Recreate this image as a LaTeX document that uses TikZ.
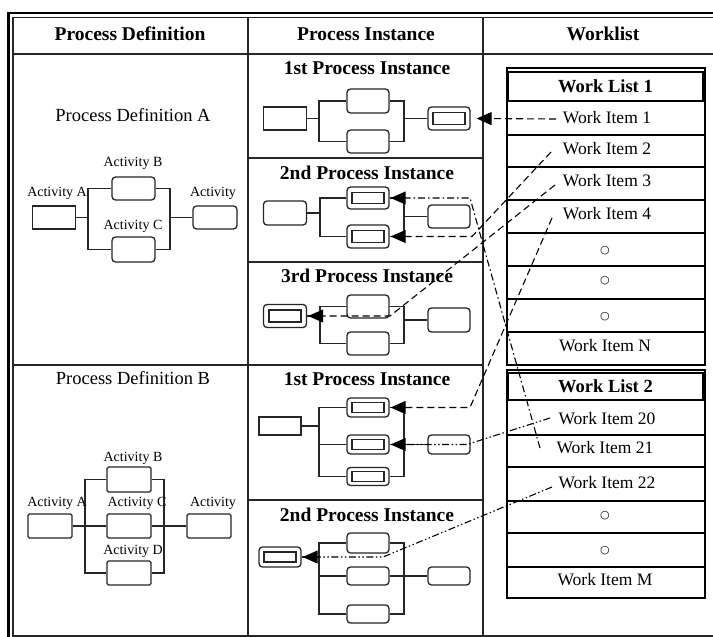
\documentclass[tikz,border=0pt]{standalone}
\usepackage{fontspec}
\setmainfont{Liberation Serif}
\newfontfamily\symfont{DejaVu Sans}
\usetikzlibrary{arrows.meta}

\begin{document}
\begin{tikzpicture}[x=1pt,y=-1pt,
  wire/.style={line width=1.3pt, draw=black!85},
  thin rule/.style={line width=1.3pt, draw=black!85},
  hdr/.style={font=\fontsize{19.5}{20}\selectfont\bfseries, inner sep=0pt},
  deftitle/.style={font=\fontsize{18.5}{19}\selectfont, inner sep=0pt},
  actlabel/.style={font=\fontsize{14}{15}\selectfont, inner sep=0pt},
  itemtext/.style={font=\fontsize{17.5}{18}\selectfont, inner sep=0pt},
  dottext/.style={font=\symfont\fontsize{11}{12}\selectfont, inner sep=0pt},
  listhead/.style={draw, line width=2pt, minimum width=195pt, minimum height=29pt, inner sep=0pt,
    font=\fontsize{18.5}{19}\selectfont\bfseries},
  sqbox/.style={draw=black!85, line width=1.3pt, rectangle, inner sep=0pt,
    minimum width=42pt, minimum height=23pt},
  rbox/.style={sqbox, rounded corners=3.5pt},
  sbox/.style={sqbox, rounded corners=1.5pt},
  inbox/.style={draw=black!85, line width=1.3pt, inner sep=0pt, minimum width=32pt, minimum height=12pt},
  conn/.style={line width=1.1pt, -{Triangle[length=15pt,width=13pt]}},
  dsh/.style={dash pattern=on 7pt off 4pt},
  dshdot/.style={dash pattern=on 7pt off 3pt on 1.5pt off 3pt},
  dshdotdot/.style={dash pattern=on 7pt off 2.5pt on 1.5pt off 2.5pt on 1.5pt off 2.5pt}
]
\useasboundingbox (0,0) rectangle (713,637);
\fill[white] (0,0) rectangle (713,637);

% ---------- table frame ----------
\draw[line width=2.6pt] (8.5,650) -- (8.5,13) -- (720,13);
\draw[thin rule] (13,650) -- (13,17.5) -- (720,17.5);
\draw[thin rule] (13,636) -- (720,636);
\draw[thin rule] (13,54) -- (720,54);
\draw[thin rule] (248,17.5) -- (248,636);
\draw[thin rule] (483,17.5) -- (483,636);
\draw[thin rule] (13,365) -- (483,365);
\draw[thin rule] (248,158) -- (483,158);
\draw[thin rule] (248,262) -- (483,262);
\draw[thin rule] (248,500) -- (483,500);

\node[hdr] (hdef) at (130,34) {Process Definition};
\node[hdr] (hins) at (366,34) {Process Instance};
\node[hdr] (hwl) at (603,34) {Worklist};

% ---------- Process Definition A ----------
\node[deftitle] (pdA) at (133,115) {Process Definition A};
\node[actlabel] (laB) at (133,163) {Activity B};
\node[actlabel] (laA) at (57,193) {Activity A};
\node[actlabel] (laC) at (133,226) {Activity C};
\node[actlabel] (laE) at (213,193) {Activity};
\node[sqbox, minimum width=43pt] (dA) at (54,217.5) {};
\node[rbox, minimum width=43pt] (dB) at (133.5,188.5) {};
\node[rbox, minimum width=43pt, minimum height=25pt] (dC) at (133.5,249.5) {};
\node[rbox, minimum width=44pt] (dE) at (215,217.5) {};
\coordinate (fkA) at (88,0);
\coordinate (jnA) at (170,0);
\draw[wire] (dA.east) -- (dA.east -| fkA);
\draw[wire] (dB.west) -| (dC.west -| fkA) -- (dC.west);
\draw[wire] (dB.east) -| (dC.east -| jnA) -- (dC.east);
\draw[wire] (dE.west) -- (dE.west -| jnA);

% ---------- Process Definition B ----------
\node[deftitle] (pdB) at (133,378) {Process Definition B};
\node[sbox, minimum width=44pt, minimum height=25pt] (eB) at (129,479.5) {};
\node[sbox, minimum width=44pt, minimum height=24pt] (eA) at (50,526) {};
\node[sbox, minimum width=44pt, minimum height=24pt] (eC) at (129,526) {};
\node[sbox, minimum width=44pt, minimum height=24pt] (eE) at (209,526) {};
\node[sbox, minimum width=44pt, minimum height=24pt] (eD) at (129,573) {};
\coordinate (fkB) at (85,0);
\coordinate (jnB) at (164,0);
\draw[wire] (eA.east) -- (eA.east -| fkB);
\draw[wire] (eB.west) -| (eD.west -| fkB) -- (eD.west);
\draw[wire] (eC.west) -- (eC.west -| fkB);
\draw[wire] (eB.east) -| (eD.east -| jnB) -- (eD.east);
\draw[wire] (eC.east) -- (eC.east -| jnB);
\draw[wire] (eE.west) -- (eE.west -| jnB);
\node[actlabel] (lbB) at (133,458) {Activity B};
\node[actlabel] (lbA) at (57,503) {Activity A};
\node[actlabel] (lbC) at (137,503) {Activity C};
\node[actlabel] (lbE) at (213,503) {Activity};
\node[actlabel] (lbD) at (133,551) {Activity D};

% ---------- 1st Process Instance (A) ----------
\node[hdr] (t1) at (367,68) {1st Process Instance};
\node[sqbox, minimum width=43pt] (i1a) at (285,118.5) {};
\node[rbox, minimum height=24pt] (i1b) at (368,101) {};
\node[rbox] (i1c) at (368,141.5) {};
\node[rbox] (i1d) at (449,118.5) {};
\node[inbox] (i1dx) at (i1d) {};
\coordinate (fk1) at (319,0);
\coordinate (jn1) at (404,0);
\draw[wire] (i1a.east) -- (i1a.east -| fk1);
\draw[wire] (i1b.west) -| (i1c.west -| fk1) -- (i1c.west);
\draw[wire] (i1b.east) -| (i1c.east -| jn1) -- (i1c.east);
\draw[wire] (i1d.west) -- (i1d.west -| jn1);

% ---------- 2nd Process Instance (A) ----------
\node[hdr] (t2) at (367,173) {2nd Process Instance};
\node[rbox, minimum width=43pt, minimum height=24pt] (i2s) at (285,213) {};
\node[rbox, minimum height=22pt] (i2a) at (368,198) {};
\node[inbox, minimum height=11pt] (i2ax) at (i2a) {};
\node[rbox] (i2b) at (368,236.5) {};
\node[inbox] (i2bx) at (i2b) {};
\node[rbox] (i2d) at (449,216.5) {};
\coordinate (fk2) at (320,0);
\coordinate (jn2) at (404,0);
\draw[wire] (i2s.east) -- (i2s.east -| fk2);
\draw[wire] (i2a.west) -| (i2b.west -| fk2) -- (i2b.west);
\draw[wire] (i2a.east) -| (i2b.east -| jn2) -- (i2b.east);
\draw[wire] (i2d.west) -- (i2d.west -| jn2);

% ---------- 3rd Process Instance (A) ----------
\node[hdr] (t3) at (367,276) {3rd Process Instance};
\node[rbox, minimum width=43pt] (i3a) at (285,316) {};
\node[inbox] (i3ax) at (i3a) {};
\node[rbox] (i3b) at (368,306.5) {};
\node[rbox] (i3c) at (368,343.5) {};
\node[rbox, minimum height=24pt] (i3d) at (449,320) {};
\coordinate (fk3) at (320,0);
\coordinate (jn3) at (404,0);
\draw[wire] (i3a.east) -- (i3a.east -| fk3);
\draw[wire] (i3b.west) -| (i3c.west -| fk3) -- (i3c.west);
\draw[wire] (i3b.east) -| (i3c.east -| jn3) -- (i3c.east);
\draw[wire] (i3d.west) -- (i3d.west -| jn3);

% ---------- 1st Process Instance (B) ----------
\node[hdr] (t4) at (367,379) {1st Process Instance};
\node[sqbox, minimum height=18pt] (i4s) at (280,426) {};
\node[rbox, minimum height=19pt] (i4a) at (368,407.5) {};
\node[inbox, minimum height=10pt] (i4ax) at (i4a) {};
\node[rbox, minimum height=19pt] (i4b) at (368,444.5) {};
\node[inbox, minimum height=10pt] (i4bx) at (i4b) {};
\node[rbox, minimum height=18pt] (i4c) at (368,476.5) {};
\node[inbox, minimum height=10pt] (i4cx) at (i4c) {};
\node[rbox, minimum height=19pt] (i4d) at (449,444.5) {};
\coordinate (fk4) at (319,0);
\coordinate (jn4) at (404,0);
\draw[wire] (i4s.east) -- (i4s.east -| fk4);
\draw[wire] (i4a.west) -| (i4c.west -| fk4) -- (i4c.west);
\draw[wire] (i4b.west) -- (i4b.west -| fk4);
\draw[wire] (i4a.east) -| (i4c.east -| jn4) -- (i4c.east);
\draw[wire] (i4b.east) -- (i4b.east -| jn4);
\draw[wire] (i4d.west) -- (i4d.west -| jn4);

% ---------- 2nd Process Instance (B) ----------
\node[hdr] (t5) at (367,515) {2nd Process Instance};
\node[rbox, minimum height=20pt] (i5a) at (280,557) {};
\node[inbox, minimum height=10pt] (i5ax) at (i5a) {};
\node[rbox, minimum height=20pt] (i5b) at (368,543) {};
\node[rbox, minimum height=18pt] (i5c) at (368,576) {};
\node[rbox, minimum height=18pt] (i5e) at (368,614) {};
\node[rbox, minimum height=18pt] (i5d) at (449,576) {};
\coordinate (fk5) at (319,0);
\coordinate (jn5) at (404,0);
\draw[wire] (i5a.east) -- (i5a.east -| fk5);
\draw[wire] (i5b.west) -| (i5e.west -| fk5) -- (i5e.west);
\draw[wire] (i5c.west) -- (i5c.west -| fk5);
\draw[wire] (i5b.east) -| (i5e.east -| jn5) -- (i5e.east);
\draw[wire] (i5c.east) -- (i5c.east -| jn5);
\draw[wire] (i5d.west) -- (i5d.west -| jn5);

% ---------- Work List 1 ----------
\draw[line width=1.1pt] (507,68) rectangle (705,365);
\node[listhead] (wl1) at (605.5,86) {Work List 1};
\foreach \yy in {135,167,200,233,266,299,332} \draw[line width=1.2pt] (507,\yy) -- (705,\yy);
\node[itemtext] (w1) at (607,118) {Work Item 1};
\node[itemtext] (w2) at (607,149) {Work Item 2};
\node[itemtext] (w3) at (607,181) {Work Item 3};
\node[itemtext] (w4) at (607,214) {Work Item 4};
\node[dottext] (o1) at (605,251) {○};
\node[dottext] (o2) at (605,281) {○};
\node[dottext] (o3) at (605,317) {○};
\node[itemtext] (wN) at (605,346) {Work Item N};

% ---------- Work List 2 ----------
\draw[line width=1.1pt] (507,370) rectangle (705,598);
\node[listhead, minimum height=27pt] (wl2) at (605.5,386.5) {Work List 2};
\foreach \yy in {435,467,501,533,567} \draw[line width=1.2pt] (507,\yy) -- (705,\yy);
\node[itemtext] (w20) at (607,419) {Work Item 20};
\node[itemtext] (w21) at (605,448) {Work Item 21};
\node[itemtext] (w22) at (607,483) {Work Item 22};
\node[dottext] (o4) at (605,516) {○};
\node[dottext] (o5) at (605,551) {○};
\node[itemtext] (wM) at (605,580) {Work Item M};

% ---------- assignment connectors ----------
\coordinate (s1) at (556,119);
\draw[conn,dsh] (s1) -- ([xshift=6pt]i1d.east);

\coordinate (s2) at (551,152);
\coordinate (k2a) at (480,228);
\coordinate (k2b) at (472,236.5);
\draw[conn,dsh] (s2) -- (k2a) -- (k2b) -- ([xshift=1pt]i2b.east);

\coordinate (s21) at (540,448);
\coordinate (k21) at (470,198);
\draw[conn,dshdot] (s21) -- (k21) -- ([xshift=1pt]i2a.east);

\coordinate (s3) at (555,185);
\coordinate (k3) at (390,316);
\draw[conn,dsh] (s3) -- (k3) -- ([xshift=1pt]i3a.east);

\coordinate (s4) at (552,218);
\coordinate (k4) at (470,407.5);
\draw[conn,dsh] (s4) -- (k4) -- ([xshift=1pt]i4a.east);

\coordinate (s20) at (550,418);
\coordinate (k20) at (467,444.5);
\draw[conn,dshdotdot] (s20) -- (k20) -- ([xshift=1pt]i4b.east);

\coordinate (s22) at (552,487);
\coordinate (k22) at (383,557);
\draw[conn,dshdotdot] (s22) -- (k22) -- ([xshift=1pt]i5a.east);
\end{tikzpicture}
\end{document}
